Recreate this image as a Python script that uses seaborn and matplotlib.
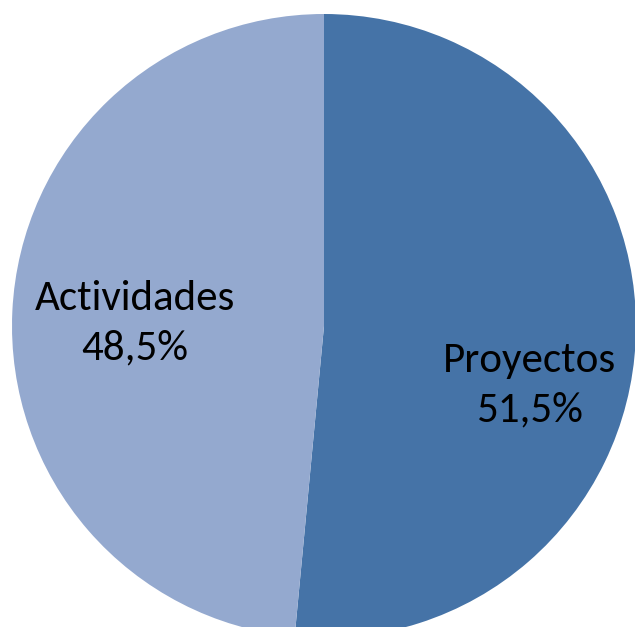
import matplotlib
matplotlib.use("Agg")
import matplotlib.pyplot as plt
import seaborn as sns

categories = ["Proyectos", "Actividades"]
values = [51.5, 48.5]
colors = ["#4573A7", "#94A9CF"]
label_pos = [(0.66, -0.19), (-0.606, 0.008)]

sns.set_theme(style="white")
plt.rcParams['font.family'] = ['Carlito', 'Lato', 'DejaVu Sans']

fig = plt.figure(figsize=(6.35, 6.27), dpi=100)
ax = fig.add_axes([0, 0, 1, 1])
ax.pie(values, colors=colors, startangle=90, counterclock=False, radius=1,
       wedgeprops=dict(linewidth=0))
for cat, val, (x, y) in zip(categories, values, label_pos):
    txt = f"{cat}\n{val:.1f}%".replace(".", ",")
    ax.text(x, y, txt, ha="center", va="center", fontsize=31,
            linespacing=1.42, color="black")
ax.set_aspect("auto")
ax.set_xlim(-324 / 312, 311 / 312)
ax.set_ylim(-301 / 312, 326 / 312)
ax.axis("off")
fig.savefig("out.png", dpi=100)
